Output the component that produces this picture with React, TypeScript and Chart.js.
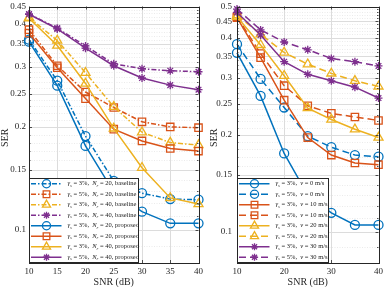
import React, { useEffect, useRef } from 'react';
import { Chart, registerables } from 'chart.js';
Chart.register(...registerables);

const FONT = '"Liberation Serif", "Times New Roman", serif';
const TXT = '#262626';

const SNR = [10, 15, 20, 25, 30, 35, 40];

// Left panel
const L_BLUE_BASE = [0.360, 0.273, 0.188, 0.139, 0.128, 0.123, 0.1225];
const L_ORANGE_BASE = [0.385, 0.302, 0.253, 0.228, 0.207, 0.200, 0.199];
const L_YELLOW_BASE = [0.418, 0.358, 0.288, 0.229, 0.193, 0.180, 0.177];
const L_PURPLE_BASE = [0.428, 0.389, 0.345, 0.306, 0.296, 0.292, 0.290];
const L_BLUE_PROP = [0.355, 0.264, 0.176, 0.129, 0.113, 0.1045, 0.1045];
const L_ORANGE_PROP = [0.376, 0.298, 0.242, 0.197, 0.182, 0.173, 0.170];
const L_YELLOW_PROP = [0.416, 0.346, 0.268, 0.198, 0.152, 0.124, 0.119];
const L_PURPLE_PROP = [0.427, 0.387, 0.340, 0.302, 0.278, 0.265, 0.257];

// Right panel
const R_BLUE_3 = [0.359, 0.264, 0.175, 0.130, 0.1145, 0.105, 0.105];
const R_BLUE_5 = [0.382, 0.298, 0.243, 0.198, 0.183, 0.173, 0.171];
const R_ORANGE_3 = [0.462, 0.347, 0.256, 0.196, 0.173, 0.1635, 0.1615];
const R_ORANGE_5 = [0.465, 0.357, 0.284, 0.246, 0.233, 0.227, 0.2215];
const R_YELLOW_3 = [0.465, 0.380, 0.305, 0.242, 0.223, 0.208, 0.196];
const R_YELLOW_5 = [0.470, 0.410, 0.360, 0.331, 0.310, 0.294, 0.2825];
const R_PURPLE_3 = [0.479, 0.408, 0.337, 0.308, 0.294, 0.281, 0.260];
const R_PURPLE_5 = [0.491, 0.423, 0.388, 0.367, 0.345, 0.337, 0.327];

const L_X_TICKS = [10, 15, 20, 25, 30, 35, 40];
const R_X_TICKS = [10, 20, 30, 40];
const L_Y_TICKS = [0.1, 0.15, 0.2, 0.25, 0.3, 0.35, 0.4, 0.45];
const R_Y_TICKS = [0.1, 0.15, 0.2, 0.25, 0.3, 0.35, 0.4, 0.45, 0.5];
const Y_MINOR = [0.08, 0.09, 0.11, 0.12, 0.13, 0.14, 0.16, 0.17, 0.18, 0.19, 0.21, 0.22, 0.23, 0.24,
  0.26, 0.27, 0.28, 0.29, 0.31, 0.32, 0.33, 0.34, 0.36, 0.37, 0.38, 0.39, 0.41, 0.42, 0.43, 0.44,
  0.46, 0.47, 0.48, 0.49];

const BLUE = '#0072BD';
const ORANGE = '#D95319';
const YELLOW = '#EDB120';
const PURPLE = '#7E2F8E';

type Part = { t: string; it?: boolean; sub?: boolean };

const leftLabel = (g: string, n: string, kind: string): Part[] => [
  { t: 'γ', it: true }, { t: 's', it: true, sub: true }, { t: ' = ' + g + '%,  ' },
  { t: 'N', it: true }, { t: 'r', it: true, sub: true }, { t: ' = ' + n + ', ' + kind },
];
const rightLabel = (g: string, v: string): Part[] => [
  { t: 'γ', it: true }, { t: 's', it: true, sub: true }, { t: ' = ' + g + '%,  ' },
  { t: 'v', it: true }, { t: ' = ' + v + ' m/s' },
];

const DASHDOT = [5, 2, 1.5, 2];
const DASH = [7, 4];

const STYLE: Record<string, { color: string; ps: string; r: number }> = {
  blue: { color: BLUE, ps: 'circle', r: 4.5 },
  orange: { color: ORANGE, ps: 'rect', r: 5.2 },
  yellow: { color: YELLOW, ps: 'triangle', r: 5.2 },
  purple: { color: PURPLE, ps: 'star', r: 4 },
};

function ds(vals: number[], st: string, dash: number[], label: Part[], i: number) {
  const s = STYLE[st];
  return {
    data: SNR.map((x, k) => ({ x, y: vals[k] })),
    borderColor: s.color,
    borderWidth: 1.5,
    borderDash: dash,
    pointStyle: s.ps,
    pointRadius: s.r,
    pointBorderWidth: 1.3,
    pointBorderColor: s.color,
    pointBackgroundColor: 'rgba(0,0,0,0)',
    fill: false,
    tension: 0,
    clip: false,
    order: -i,
    richLabel: label,
  };
}

const LEFT_DATASETS = [
  ds(L_BLUE_BASE, 'blue', DASHDOT, leftLabel('3', '20', 'baseline'), 0),
  ds(L_ORANGE_BASE, 'orange', DASHDOT, leftLabel('5', '20', 'baseline'), 1),
  ds(L_YELLOW_BASE, 'yellow', DASHDOT, leftLabel('3', '40', 'baseline'), 2),
  ds(L_PURPLE_BASE, 'purple', DASHDOT, leftLabel('5', '40', 'baseline'), 3),
  ds(L_BLUE_PROP, 'blue', [], leftLabel('3', '20', 'proposed'), 4),
  ds(L_ORANGE_PROP, 'orange', [], leftLabel('5', '20', 'proposed'), 5),
  ds(L_YELLOW_PROP, 'yellow', [], leftLabel('3', '40', 'proposed'), 6),
  ds(L_PURPLE_PROP, 'purple', [], leftLabel('5', '40', 'proposed'), 7),
];

const RIGHT_DATASETS = [
  ds(R_BLUE_3, 'blue', [], rightLabel('3', '0'), 0),
  ds(R_BLUE_5, 'blue', DASH, rightLabel('5', '0'), 1),
  ds(R_ORANGE_3, 'orange', [], rightLabel('3', '10'), 2),
  ds(R_ORANGE_5, 'orange', DASH, rightLabel('5', '10'), 3),
  ds(R_YELLOW_3, 'yellow', [], rightLabel('3', '20'), 4),
  ds(R_YELLOW_5, 'yellow', DASH, rightLabel('5', '20'), 5),
  ds(R_PURPLE_3, 'purple', [], rightLabel('3', '30'), 6),
  ds(R_PURPLE_5, 'purple', DASH, rightLabel('5', '30'), 7),
];

function drawMarker(ctx: CanvasRenderingContext2D, style: string, r: number, x: number, y: number) {
  ctx.beginPath();
  if (style === 'circle') {
    ctx.arc(x, y, r, 0, Math.PI * 2);
  } else if (style === 'rect') {
    const s = r * Math.SQRT1_2;
    ctx.rect(x - s, y - s, 2 * s, 2 * s);
  } else if (style === 'triangle') {
    const a0 = -Math.PI / 2;
    for (let k = 0; k < 3; k++) {
      const ang = a0 + (k * 2 * Math.PI) / 3;
      const px = x + Math.cos(ang) * r, py = y + Math.sin(ang) * r;
      if (k === 0) ctx.moveTo(px, py); else ctx.lineTo(px, py);
    }
    ctx.closePath();
  } else {
    for (let k = 0; k < 4; k++) {
      const ang = (k * Math.PI) / 4;
      ctx.moveTo(x + Math.cos(ang) * r, y + Math.sin(ang) * r);
      ctx.lineTo(x - Math.cos(ang) * r, y - Math.sin(ang) * r);
    }
  }
  ctx.stroke();
}

function drawRich(ctx: CanvasRenderingContext2D, x: number, y: number, parts: Part[], size: number) {
  let cx = x;
  for (const p of parts) {
    const fs = p.sub ? size * 0.7 : size;
    ctx.font = `${p.it ? 'italic ' : ''}${fs}px ${FONT}`;
    ctx.fillText(p.t, cx, p.sub ? y + size * 0.28 : y);
    cx += ctx.measureText(p.t).width;
  }
}

const matlabPlugin = {
  id: 'matlab',
  beforeDatasetsDraw(chart: any, _a: any, opts: any) {
    const { ctx, chartArea: a, scales } = chart;
    const xs = scales.x, ys = scales.y;
    ctx.save();
    ctx.beginPath();
    ctx.rect(a.left, a.top, a.right - a.left, a.bottom - a.top);
    ctx.clip();
    ctx.strokeStyle = '#e2e2e2';
    ctx.lineWidth = 0.7;
    ctx.setLineDash([1, 1.5]);
    for (const v of opts.yMinor) {
      if (v < ys.min || v > ys.max) continue;
      const y = Math.round(ys.getPixelForValue(v)) + 0.5;
      ctx.beginPath(); ctx.moveTo(a.left, y); ctx.lineTo(a.right, y); ctx.stroke();
    }
    ctx.setLineDash([]);
    ctx.strokeStyle = '#dcdcdc';
    ctx.lineWidth = 1;
    for (const v of opts.yMajor) {
      const y = Math.round(ys.getPixelForValue(v)) + 0.5;
      ctx.beginPath(); ctx.moveTo(a.left, y); ctx.lineTo(a.right, y); ctx.stroke();
    }
    for (const v of opts.xMajor) {
      const x = Math.round(xs.getPixelForValue(v)) + 0.5;
      ctx.beginPath(); ctx.moveTo(x, a.top); ctx.lineTo(x, a.bottom); ctx.stroke();
    }
    ctx.restore();
  },
  afterDatasetsDraw(chart: any, _a: any, opts: any) {
    const { ctx, chartArea: a, scales } = chart;
    const xs = scales.x, ys = scales.y;
    ctx.save();
    ctx.strokeStyle = TXT;
    ctx.lineWidth = 0.8;
    for (const v of opts.yMajor) {
      const y = Math.round(ys.getPixelForValue(v)) + 0.5;
      ctx.beginPath();
      ctx.moveTo(a.left, y); ctx.lineTo(a.left + 3, y);
      ctx.moveTo(a.right, y); ctx.lineTo(a.right - 3, y);
      ctx.stroke();
    }
    for (const v of opts.yMinor) {
      if (v < ys.min || v > ys.max) continue;
      const y = Math.round(ys.getPixelForValue(v)) + 0.5;
      ctx.beginPath();
      ctx.moveTo(a.left, y); ctx.lineTo(a.left + 1.5, y);
      ctx.moveTo(a.right, y); ctx.lineTo(a.right - 1.5, y);
      ctx.stroke();
    }
    for (const v of opts.xMajor) {
      const x = Math.round(xs.getPixelForValue(v)) + 0.5;
      ctx.beginPath();
      ctx.moveTo(x, a.bottom); ctx.lineTo(x, a.bottom - 3);
      ctx.moveTo(x, a.top); ctx.lineTo(x, a.top + 3);
      ctx.stroke();
    }
    ctx.lineWidth = 1;
    ctx.strokeRect(Math.round(a.left) + 0.5, Math.round(a.top) + 0.5,
      Math.round(a.right - a.left), Math.round(a.bottom - a.top) - 1);

    // legend
    const bx = Math.round(a.left) + 0.5;
    const bb = Math.round(a.bottom) - 0.5;
    const bw = opts.legendW;
    const bh = 84;
    const by = bb - bh;
    ctx.fillStyle = '#ffffff';
    ctx.fillRect(bx, by, bw, bh);
    ctx.strokeStyle = '#262626';
    ctx.lineWidth = 1;
    ctx.strokeRect(bx, by, bw, bh);
    const n = chart.data.datasets.length;
    const rh = bh / n;
    chart.data.datasets.forEach((d: any, i: number) => {
      const cy = by + rh * (i + 0.5);
      ctx.strokeStyle = d.borderColor;
      ctx.lineWidth = 1.5;
      ctx.setLineDash(d.borderDash || []);
      ctx.beginPath(); ctx.moveTo(bx + 1.5, cy); ctx.lineTo(bx + 32, cy); ctx.stroke();
      ctx.setLineDash([]);
      ctx.strokeStyle = d.pointBorderColor;
      ctx.lineWidth = d.pointBorderWidth;
      drawMarker(ctx, d.pointStyle, d.pointRadius * 0.9, bx + 17, cy);
      ctx.fillStyle = '#222222';
      ctx.textBaseline = 'middle';
      ctx.textAlign = 'left';
      drawRich(ctx, bx + 38, cy, d.richLabel, 6.5);
    });

    // axis titles
    ctx.fillStyle = TXT;
    ctx.font = `10px ${FONT}`;
    ctx.textAlign = 'center';
    ctx.textBaseline = 'middle';
    ctx.fillText('SNR (dB)', (a.left + a.right) / 2, 282);
    ctx.save();
    ctx.translate(opts.yTitleX, (a.top + a.bottom) / 2 + 3);
    ctx.rotate(-Math.PI / 2);
    ctx.fillText('SER', 0, 0);
    ctx.restore();
    ctx.restore();
  },
};

type Panel = {
  datasets: any[]; xTicks: number[]; yTicks: number[]; yMax: number;
  yAxisW: number; padRight: number; legendW: number; yTitleX: number; yPad: number;
};

function makeConfig(p: Panel): any {
  return {
    type: 'line',
    data: { datasets: p.datasets },
    plugins: [matlabPlugin],
    options: {
      responsive: false,
      animation: false,
      events: [],
      layout: { padding: { left: 0, right: p.padRight, top: 4, bottom: 0 } },
      plugins: {
        legend: { display: false },
        tooltip: { enabled: false },
        matlab: { yMinor: Y_MINOR, yMajor: p.yTicks, xMajor: p.xTicks, legendW: p.legendW, yTitleX: p.yTitleX },
      },
      scales: {
        x: {
          type: 'linear', min: 10, max: 40,
          grid: { display: false, drawTicks: false },
          border: { display: false },
          ticks: { font: { family: FONT, size: 9 }, color: TXT, padding: 3, maxRotation: 0, autoSkip: false },
          afterBuildTicks: (s: any) => { s.ticks = p.xTicks.map((v) => ({ value: v })); },
          afterFit: (s: any) => { s.height = 24; s.paddingLeft = 0; s.paddingRight = 0; },
        },
        y: {
          type: 'logarithmic', min: 0.08, max: p.yMax,
          grid: { display: false, drawTicks: false },
          border: { display: false },
          ticks: {
            font: { family: FONT, size: 9 }, color: TXT, padding: p.yPad, autoSkip: false,
            callback: (v: any) => String(v),
          },
          afterBuildTicks: (s: any) => { s.ticks = p.yTicks.map((v) => ({ value: v })); },
          afterFit: (s: any) => { s.width = p.yAxisW; s.paddingTop = 0; s.paddingBottom = 0; },
        },
      },
    },
  };
}

function ChartPanel({ panel, width, left }: { panel: Panel; width: number; left: number }) {
  const ref = useRef<HTMLCanvasElement | null>(null);
  useEffect(() => {
    if (!ref.current) return;
    const c = new Chart(ref.current, makeConfig(panel));
    return () => c.destroy();
  }, []);
  return (
    <canvas ref={ref} width={width} height={287}
      style={{ position: 'absolute', left, top: 0, width, height: 287 }} />
  );
}

const LEFT_PANEL: Panel = {
  datasets: LEFT_DATASETS, xTicks: L_X_TICKS, yTicks: L_Y_TICKS, yMax: 0.45,
  yAxisW: 29, padRight: 2, legendW: 109, yTitleX: 5, yPad: 3,
};
const RIGHT_PANEL: Panel = {
  datasets: RIGHT_DATASETS, xTicks: R_X_TICKS, yTicks: R_Y_TICKS, yMax: 0.5,
  yAxisW: 32, padRight: 5, legendW: 91, yTitleX: 9.5, yPad: 5,
};

export default function App() {
  return (
    <div style={{ position: 'fixed', left: 0, top: 0, width: 385, height: 287, background: '#fff', overflow: 'hidden' }}>
      <ChartPanel panel={LEFT_PANEL} width={205} left={0} />
      <ChartPanel panel={RIGHT_PANEL} width={180} left={205} />
    </div>
  );
}
